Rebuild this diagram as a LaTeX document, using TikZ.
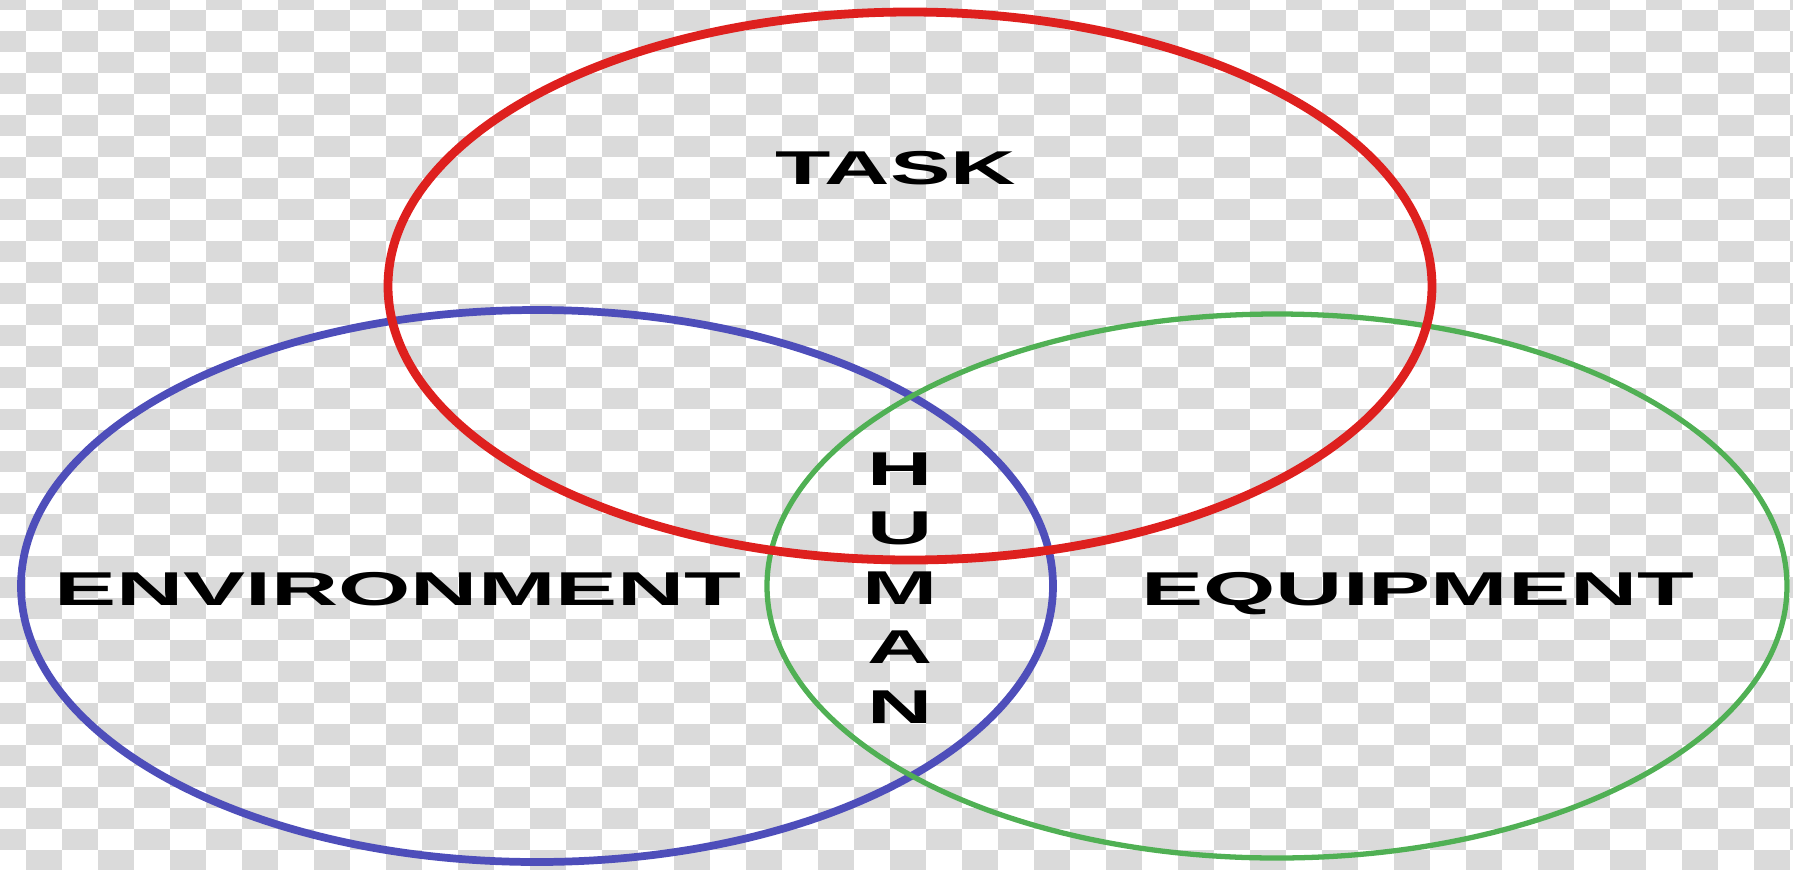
\documentclass[tikz,border=0pt]{standalone}
\usepackage{fontspec}
\setmainfont{Liberation Sans}
\usepackage{graphicx}
\usetikzlibrary{positioning}

\definecolor{taskred}{RGB}{222,32,30}
\definecolor{envblue}{RGB}{78,78,186}
\definecolor{equipgreen}{RGB}{80,176,84}
\definecolor{checkgray}{RGB}{218,218,218}

\begin{document}
\begin{tikzpicture}[x=0.01cm, y=-0.01cm,
    ring/.style={line width=#1},
    label/.style={inner sep=0pt, anchor=base,
      font=\bfseries\fontsize{13.5}{16.93}\selectfont}]
  \useasboundingbox (0,0) rectangle (1793,869);
  % fondo a cuadros
  \fill[white] (0,0) rectangle (1793,869);
  \begin{scope}
    \clip (0,0) rectangle (1793,869);
    \foreach \j in {0,...,41}{
      \pgfmathsetmacro{\off}{36*mod(\j,2)-10}
      \foreach \i in {0,...,25}{
        \fill[checkgray] (\off+72*\i,-11+21*\j) rectangle ++(36,21);}}
  \end{scope}
  % los tres anillos
  \draw[ring=2.2pt, envblue] (537,586) ellipse [x radius=516, y radius=276];
  \draw[ring=1.5pt, equipgreen] (1277,586) ellipse [x radius=510, y radius=272];
  \draw[ring=2.5pt, taskred] (910,286) ellipse [x radius=522, y radius=274];
  % textos
  \node[label] (task) at (896,184) {\scalebox{1.91}[1]{TASK}};
  \node[label] (env) at (398,605) {\scalebox{1.96}[1]{ENVIRONMENT}};
  \node[label] (equip) at (1418,605) {\scalebox{1.96}[1]{EQUIPMENT}};
  \node[label, anchor=center, align=center] (human) at (900,588)
    {\scalebox{1.9}[1]{H}\\\scalebox{1.9}[1]{U}\\\scalebox{1.9}[1]{M}\\
     \scalebox{1.9}[1]{A}\\\scalebox{1.9}[1]{N}};
\end{tikzpicture}
\end{document}
